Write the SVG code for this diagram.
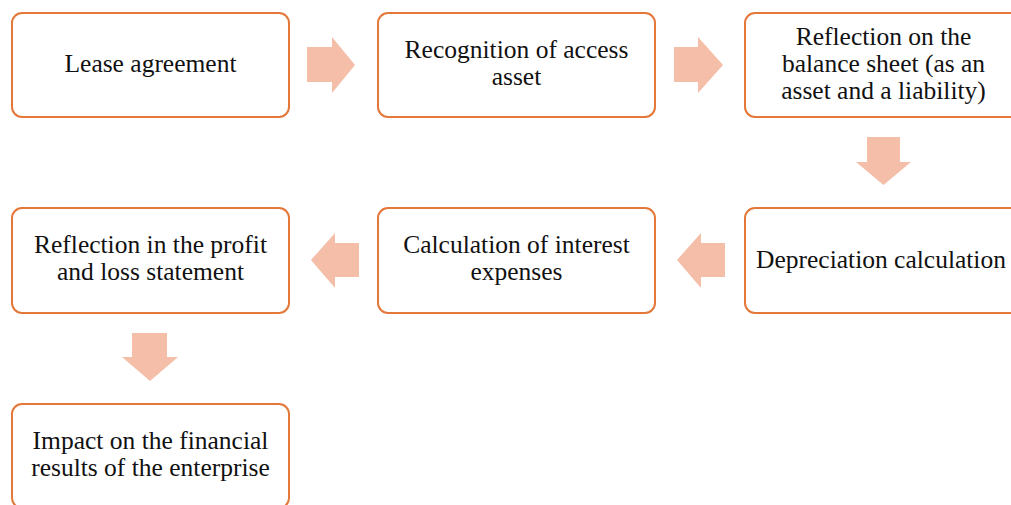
<svg xmlns="http://www.w3.org/2000/svg" width="1011" height="505" viewBox="0 0 1011 505">
<style>
.box{fill:#fff;stroke:#E4783A;stroke-width:2}
.arr{fill:#F4BEA9}
text{font-family:"Liberation Serif","Times New Roman",serif;font-size:25.5px;fill:#111;text-anchor:middle}
</style>
<rect width="1011" height="505" fill="#fff"/>
<g id="connectors">
<polygon class="arr" points="307,47 332,47 332,37 355,65 332,93 332,82 307,82"/>
<polygon class="arr" points="674,47 698,47 698,37 723,65 698,93 698,82 674,82"/>
<polygon class="arr" points="867,137 900,137 900,162 911,162 883.5,185 856,162 867,162"/>
<polygon class="arr" points="725,243 701,243 701,233 677,260 701,288 701,277 725,277"/>
<polygon class="arr" points="359,243 335,243 335,233 311,260 335,288 335,277 359,277"/>
<polygon class="arr" points="132,333 167,333 167,357 178,357 150,381 122,357 132,357"/>
</g>
<g id="n1"><rect class="box" x="12" y="13" width="277" height="104" rx="10"/><text x="150.5" y="72">Lease agreement</text></g>
<g id="n2"><rect class="box" x="378" y="13" width="277" height="104" rx="10"/><text x="516.5" y="58">Recognition of access</text><text x="516.5" y="85">asset</text></g>
<g id="n3"><rect class="box" x="745" y="13" width="277" height="104" rx="10"/><text x="883.5" y="45">Reflection on the</text><text x="883.5" y="72">balance sheet (as an</text><text x="883.5" y="99">asset and a liability)</text></g>
<g id="n6"><rect class="box" x="745" y="208" width="277" height="105" rx="10"/><text x="881" y="268">Depreciation calculation</text></g>
<g id="n5"><rect class="box" x="378" y="208" width="277" height="105" rx="10"/><text x="516.5" y="253">Calculation of interest</text><text x="516.5" y="280">expenses</text></g>
<g id="n4"><rect class="box" x="12" y="208" width="277" height="105" rx="10"/><text x="150.5" y="253">Reflection in the profit</text><text x="150.5" y="280">and loss statement</text></g>
<g id="n7"><rect class="box" x="12" y="404" width="277" height="104" rx="10"/><text x="150.5" y="449">Impact on the financial</text><text x="150.5" y="476">results of the enterprise</text></g>
</svg>
